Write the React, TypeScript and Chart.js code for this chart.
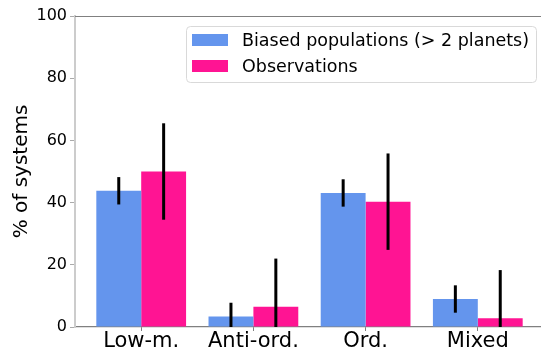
import React, { useEffect, useRef } from "react";
import { Chart, registerables } from "chart.js";

Chart.register(...registerables);

const categories = ["Low-m.", "Anti-ord.", "Ord.", "Mixed"];
const biasedValues = [43.8, 3.4, 43.1, 9.0];
const biasedErrors = [4.4, 4.4, 4.4, 4.4];
const observedValues = [50.0, 6.5, 40.3, 2.8];
const observedErrors = [15.5, 15.5, 15.5, 15.5];
const yTicks = [0, 20, 40, 60, 80, 100];

const BLUE = "#6495ED";
const PINK = "#FF1493";
const FONT = "'DejaVu Sans', sans-serif";

const errorBarPlugin = {
  id: "errorBars",
  afterDatasetsDraw(chart: any) {
    const { ctx, chartArea } = chart;
    const y = chart.scales.y;
    ctx.save();
    ctx.beginPath();
    ctx.rect(chartArea.left, chartArea.top, chartArea.right - chartArea.left, chartArea.bottom - chartArea.top);
    ctx.clip();
    ctx.strokeStyle = "#000";
    ctx.lineWidth = 3;
    chart.data.datasets.forEach((ds: any, di: number) => {
      const meta = chart.getDatasetMeta(di);
      meta.data.forEach((bar: any, i: number) => {
        const v = ds.data[i].y;
        const e = ds.errors[i];
        ctx.beginPath();
        ctx.moveTo(bar.x, y.getPixelForValue(v - e));
        ctx.lineTo(bar.x, y.getPixelForValue(v + e));
        ctx.stroke();
      });
    });
    ctx.restore();
  },
};

const framePlugin = {
  id: "frame",
  afterDraw(chart: any) {
    const { ctx, chartArea } = chart;
    ctx.save();
    // top spine
    ctx.strokeStyle = "#808080";
    ctx.lineWidth = 1.2;
    ctx.beginPath();
    ctx.moveTo(chartArea.left, chartArea.top + 0.5);
    ctx.lineTo(chartArea.right, chartArea.top + 0.5);
    ctx.stroke();

    // legend
    const bx = 186, by = 26, bw = 350, bh = 56, r = 4;
    ctx.fillStyle = "rgba(255,255,255,0.8)";
    ctx.strokeStyle = "#d9d9d9";
    ctx.lineWidth = 1;
    ctx.beginPath();
    ctx.roundRect(bx + 0.5, by + 0.5, bw, bh, r);
    ctx.fill();
    ctx.stroke();
    ctx.font = `17.5px ${FONT}`;
    ctx.textBaseline = "middle";
    ctx.textAlign = "left";
    chart.data.datasets.forEach((ds: any, i: number) => {
      const cy = 40 + i * 26;
      ctx.fillStyle = ds.backgroundColor;
      ctx.fillRect(192, cy - 6, 36, 12);
      ctx.fillStyle = "#000";
      ctx.fillText(ds.label, 242, cy + 1);
    });
    ctx.restore();
  },
};

export default function App() {
  const ref = useRef<HTMLCanvasElement>(null);

  useEffect(() => {
    if (!ref.current) return;
    Chart.defaults.font.family = FONT;
    const chart = new Chart(ref.current, {
      type: "bar",
      data: {
        datasets: [
          {
            label: "Biased populations (> 2 planets)",
            data: biasedValues.map((v, i) => ({ x: i, y: v })),
            errors: biasedErrors,
            backgroundColor: BLUE,
            categoryPercentage: 0.8,
            barPercentage: 1,
          } as any,
          {
            label: "Observations",
            data: observedValues.map((v, i) => ({ x: i, y: v })),
            errors: observedErrors,
            backgroundColor: PINK,
            categoryPercentage: 0.8,
            barPercentage: 1,
          } as any,
        ],
      },
      options: {
        animation: false,
        responsive: false,
        maintainAspectRatio: false,
        layout: { padding: { top: 16, right: 16, left: 0, bottom: 0 } },
        plugins: { legend: { display: false }, tooltip: { enabled: false } },
        scales: {
          x: {
            type: "linear",
            offset: false,
            min: -0.59,
            max: 3.59,
            afterBuildTicks: (s: any) => {
              s.ticks = categories.map((_, i) => ({ value: i }));
            },
            afterFit: (s: any) => {
              s.height = 22;
            },
            ticks: {
              callback: (v: any) => categories[v] ?? "",
              font: { size: 21, lineHeight: 1 },
              color: "#000",
              padding: 0,
              maxRotation: 0,
              autoSkip: false,
            },
            grid: { drawOnChartArea: false, offset: false, tickLength: 4, color: "#808080" },
            border: { color: "#808080", width: 1.2 },
          },
          y: {
            min: 0,
            max: 100,
            afterBuildTicks: (s: any) => {
              s.ticks = yTicks.map((v) => ({ value: v }));
            },
            afterFit: (s: any) => {
              s.width = 75;
            },
            ticks: { font: { size: 16 }, color: "#000", padding: 3 },
            grid: { drawOnChartArea: false, tickLength: 5, color: "#aaaaaa" },
            border: { color: "#cccccc", width: 2 },
            title: {
              display: true,
              text: "% of systems",
              font: { size: 20 },
              color: "#000",
              padding: { top: 10, bottom: 0 },
            },
          },
        },
      } as any,
      plugins: [errorBarPlugin, framePlugin],
    });
    return () => chart.destroy();
  }, []);

  return (
    <div style={{ position: "fixed", left: 0, top: 0, width: 541, height: 349, overflow: "hidden", background: "#fff" }}>
      <canvas ref={ref} width={560} height={349} style={{ display: "block" }} />
    </div>
  );
}
